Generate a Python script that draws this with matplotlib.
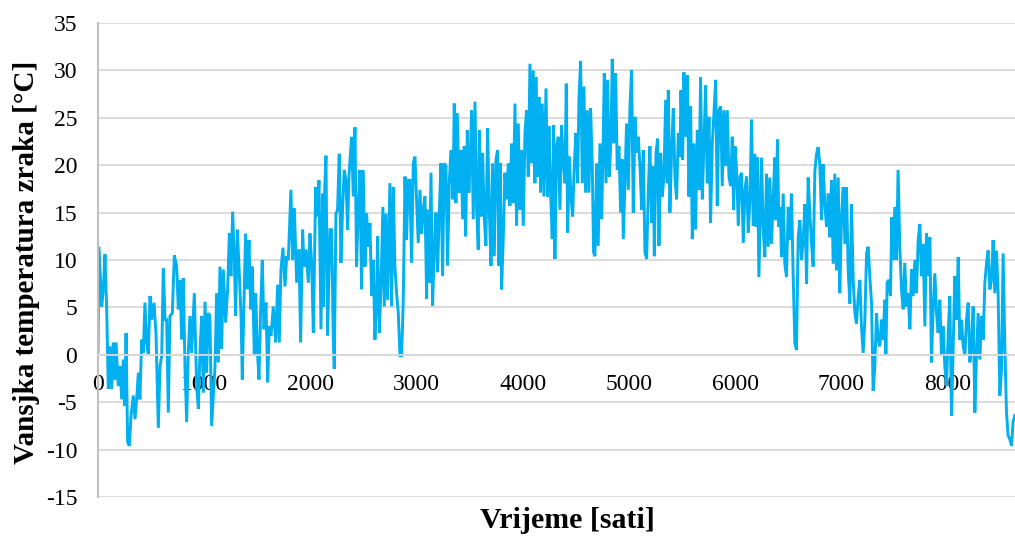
import numpy as np
import matplotlib.pyplot as plt

# hourly outside air temperature (hour, deg C)
hours = [
    0, 9, 35, 50, 66, 82, 97, 113, 129, 144, 160, 170, 191, 207, 223, 239, 254, 264, 279, 295,
    311, 333, 348, 364, 380, 395, 411, 427, 442, 458, 474, 490, 505, 527, 546, 568, 584, 600, 615, 631,
    647, 662, 678, 700, 719, 741, 756, 772, 788, 803, 819, 835, 850, 866, 882, 907, 929, 945, 960, 976,
    992, 1008, 1023, 1039, 1054, 1070, 1102, 1117, 1133, 1149, 1164, 1180, 1202, 1221, 1237, 1252, 1268, 1284, 1296, 1312,
    1328, 1347, 1359, 1375, 1390, 1406, 1422, 1438, 1453, 1472, 1485, 1500, 1516, 1532, 1547, 1563, 1582, 1598, 1613, 1629,
    1651, 1673, 1692, 1707, 1723, 1742, 1761, 1777, 1792, 1817, 1833, 1849, 1871, 1893, 1908, 1927, 1940, 1959, 1981, 1996,
    2012, 2028, 2050, 2065, 2081, 2100, 2116, 2124, 2135, 2147, 2162, 2184, 2200, 2216, 2225, 2241, 2256, 2272, 2288, 2304,
    2319, 2335, 2351, 2363, 2388, 2404, 2420, 2435, 2451, 2467, 2482, 2498, 2514, 2530, 2545, 2561, 2577, 2592, 2608, 2624,
    2633, 2649, 2665, 2683, 2696, 2712, 2727, 2749, 2765, 2781, 2796, 2812, 2828, 2844, 2859, 2875, 2891, 2906, 2922, 2937,
    2953, 2969, 2985, 3000, 3016, 3032, 3048, 3063, 3079, 3095, 3104, 3120, 3136, 3151, 3167, 3183, 3198, 3214, 3230, 3245,
    3261, 3277, 3292, 3308, 3324, 3343, 3355, 3371, 3383, 3402, 3418, 3434, 3449, 3462, 3478, 3493, 3509, 3518, 3534, 3550,
    3566, 3581, 3591, 3606, 3622, 3638, 3653, 3669, 3685, 3701, 3716, 3732, 3748, 3763, 3776, 3788, 3801, 3817, 3832, 3848,
    3864, 3879, 3895, 3911, 3927, 3942, 3958, 3974, 3989, 4005, 4021, 4036, 4052, 4068, 4083, 4099, 4115, 4124, 4140, 4153,
    4168, 4184, 4200, 4219, 4234, 4247, 4262, 4278, 4291, 4303, 4319, 4335, 4350, 4366, 4382, 4397, 4410, 4423, 4438, 4454,
    4470, 4485, 4501, 4517, 4529, 4545, 4561, 4576, 4592, 4608, 4623, 4639, 4655, 4667, 4680, 4696, 4711, 4727, 4743, 4758,
    4768, 4784, 4799, 4815, 4831, 4843, 4859, 4875, 4890, 4906, 4922, 4937, 4947, 4962, 4978, 4994, 5010, 5025, 5041, 5057,
    5072, 5088, 5104, 5120, 5135, 5151, 5167, 5182, 5198, 5214, 5229, 5239, 5255, 5270, 5283, 5299, 5314, 5330, 5346, 5361,
    5371, 5386, 5402, 5418, 5433, 5449, 5465, 5481, 5490, 5506, 5518, 5534, 5550, 5565, 5581, 5597, 5612, 5628, 5644, 5660,
    5675, 5691, 5707, 5722, 5738, 5754, 5769, 5785, 5801, 5817, 5832, 5848, 5864, 5879, 5895, 5911, 5926, 5942, 5958, 5973,
    5986, 5999, 6014, 6030, 6046, 6061, 6077, 6093, 6108, 6124, 6140, 6155, 6171, 6186, 6202, 6211, 6224, 6236, 6249, 6264,
    6280, 6296, 6312, 6327, 6343, 6359, 6374, 6384, 6399, 6412, 6425, 6437, 6453, 6468, 6484, 6500, 6516, 6531, 6547, 6563,
    6578, 6594, 6610, 6625, 6641, 6657, 6673, 6688, 6704, 6720, 6735, 6751, 6767, 6782, 6798, 6814, 6829, 6845, 6861, 6877,
    6892, 6908, 6924, 6939, 6955, 6971, 6986, 7002, 7018, 7034, 7049, 7065, 7081, 7096, 7112, 7128, 7143, 7159, 7175, 7190,
    7206, 7222, 7238, 7253, 7269, 7285, 7300, 7316, 7332, 7347, 7363, 7379, 7394, 7410, 7420, 7432, 7448, 7463, 7476, 7489,
    7504, 7520, 7535, 7551, 7567, 7583, 7598, 7614, 7630, 7646, 7661, 7677, 7693, 7708, 7724, 7740, 7755, 7771, 7787, 7802,
    7818, 7834, 7849, 7865, 7881, 7897, 7912, 7928, 7944, 7959, 7975, 7991, 8006, 8022, 8038, 8054, 8069, 8085, 8101, 8116,
    8132, 8148, 8164, 8179, 8195, 8211, 8226, 8242, 8258, 8274, 8289, 8305, 8321, 8336, 8352, 8368, 8383, 8399, 8415, 8430,
    8446, 8462, 8477, 8493, 8509, 8524, 8540, 8556, 8571, 8587, 8603, 8618, 8634,
]
temps = [
    0.3, 11.4, 5.1, 6.9, 10.6, 4.8, -3.6, 0.9, -3.6, 1.3, -2.6, 1.3, -3.3, -1.2, -4.7, -0.5, -5.4, 2.3, -9.2, -9.6,
    -6.4, -4.3, -6.8, -4.7, -1.9, -4.7, 1.6, 0.2, 5.5, 1.3, 0.0, 6.2, 3.7, 5.5, 2.3, -7.7, -1.2, -0.1, 9.1, 3.7,
    3.7, -6.1, 4.1, 4.4, 10.5, 9.3, 4.8, 7.9, 1.6, 8.1, -1.2, -7.1, 0.2, 4.1, 0.2, 6.5, -3.3, -5.7, 0.2, 4.1,
    -4.0, 5.6, -1.9, 4.4, 4.1, -7.5, -1.2, 6.5, -0.8, 9.3, 0.6, 9.0, 3.4, 6.9, 12.8, 8.3, 15.1, 10.0, 4.1, 13.2,
    9.3, 4.1, -2.6, 5.8, 12.8, 6.9, 12.1, 4.8, 9.3, -0.1, 6.5, 0.6, -2.6, 4.8, 10.0, 2.7, 5.5, -2.9, 3.0, 2.0,
    5.1, 1.3, 7.4, 1.3, 9.0, 11.3, 7.2, 10.4, 10.0, 17.4, 10.0, 15.5, 7.6, 11.1, 1.3, 13.2, 9.3, 11.1, 7.6, 12.8,
    9.7, 2.3, 17.7, 14.6, 18.4, 2.7, 17.0, 5.1, 17.4, 21.0, 2.0, 13.2, 13.2, 1.6, -1.5, 14.9, 15.3, 21.2, 9.7, 15.6,
    19.5, 18.4, 13.2, 18.8, 23.0, 16.7, 24.0, 9.3, 15.3, 19.5, 6.9, 19.5, 9.3, 14.9, 11.4, 13.9, 6.2, 10.0, 1.6, 6.2,
    12.5, 2.3, 7.2, 15.6, 5.1, 14.9, 5.8, 18.1, 5.1, 17.7, 9.3, 6.5, 4.4, -0.1, -0.1, 5.8, 18.8, 12.1, 18.4, 18.4,
    9.7, 20.2, 20.9, 16.3, 11.8, 17.4, 12.8, 15.3, 16.7, 5.9, 15.3, 7.6, 19.2, 5.2, 11.1, 15.0, 8.7, 15.0, 20.2, 8.3,
    20.2, 19.9, 9.4, 18.1, 21.6, 16.4, 26.5, 16.0, 25.5, 17.1, 21.6, 14.3, 22.0, 12.5, 23.7, 17.1, 22.0, 25.8, 14.3, 26.7,
    15.3, 11.1, 23.7, 14.6, 21.3, 14.3, 11.5, 23.9, 15.3, 9.4, 20.2, 10.4, 20.6, 21.6, 9.4, 20.2, 6.9, 12.5, 19.2, 16.4,
    20.2, 15.7, 22.3, 16.0, 26.5, 13.6, 24.4, 15.3, 21.6, 13.6, 23.4, 25.8, 18.8, 30.7, 20.2, 30.0, 18.1, 29.3, 18.8, 27.2,
    17.1, 26.5, 16.7, 28.1, 16.7, 24.1, 17.4, 12.2, 24.2, 10.1, 22.0, 23.0, 15.3, 24.2, 20.2, 18.1, 28.6, 12.9, 20.9, 16.7,
    14.6, 19.9, 23.4, 18.1, 26.9, 31.0, 18.1, 28.3, 17.1, 25.8, 17.1, 26.0, 19.9, 10.8, 10.4, 20.2, 11.5, 22.3, 14.3, 22.7,
    29.7, 18.1, 29.0, 18.8, 22.7, 31.2, 22.3, 29.7, 19.5, 22.0, 15.0, 20.6, 12.2, 18.1, 24.4, 17.4, 26.2, 30.0, 15.0, 25.1,
    21.3, 23.0, 19.9, 15.3, 21.6, 10.8, 10.1, 17.1, 22.0, 13.9, 19.9, 10.4, 21.3, 22.8, 11.5, 21.3, 16.7, 18.8, 26.9, 18.1,
    27.9, 15.0, 21.6, 26.0, 18.8, 16.4, 23.4, 20.9, 27.9, 20.6, 29.8, 23.0, 29.5, 16.7, 26.2, 12.2, 22.3, 13.2, 23.7, 17.4,
    29.3, 16.4, 22.3, 28.4, 18.1, 25.1, 13.9, 22.3, 25.5, 29.0, 15.7, 25.8, 26.2, 17.8, 25.8, 19.9, 25.8, 18.8, 17.8, 23.0,
    15.3, 22.0, 19.5, 13.6, 18.8, 19.2, 11.8, 17.4, 18.8, 12.9, 16.4, 24.8, 13.6, 21.2, 13.5, 20.8, 8.2, 14.2, 20.8, 13.5,
    10.3, 19.1, 11.4, 18.7, 11.7, 16.6, 20.8, 14.2, 22.7, 13.5, 15.6, 10.3, 17.0, 9.6, 8.2, 15.6, 12.1, 17.0, 8.2, 1.2,
    0.5, 12.4, 14.2, 10.0, 12.1, 15.9, 7.5, 18.7, 14.9, 11.7, 9.3, 19.4, 21.2, 21.9, 20.1, 14.2, 20.1, 15.9, 13.5, 17.0,
    12.4, 18.4, 9.6, 19.1, 8.9, 18.7, 6.5, 14.5, 17.7, 11.7, 17.7, 8.9, 5.4, 15.9, 7.9, 4.4, 3.3, 6.1, 7.9, 3.0,
    0.2, 3.7, 10.7, 11.4, 8.2, 5.4, -3.8, -1.2, 4.4, 1.6, 0.9, 3.7, 1.6, 5.8, -0.1, 7.6, 7.9, 6.2, 14.5, 10.0,
    15.6, 10.0, 19.5, 11.4, 6.9, 4.8, 9.7, 5.1, 6.5, 2.7, 9.0, 6.2, 10.0, 6.5, 12.1, 13.8, 8.3, 11.7, 3.0, 12.8,
    8.3, 12.4, -0.8, 4.8, 8.6, 4.4, 2.3, 5.8, -0.1, 3.0, -1.2, -3.3, 2.0, 6.2, -6.4, 0.9, 8.3, 3.7, 10.3, 1.6,
    3.7, 0.9, -0.1, 3.7, 5.5, -0.8, 0.9, 5.1, -6.1, 0.2, 4.4, -0.5, 4.1, 1.6, 7.6, 9.7, 11.0, 6.9, 7.9, 12.1,
    6.5, 11.0, 6.5, -4.3, -1.5, 10.7, 0.9, -6.1, -8.5, -8.9, -9.6, -7.1, -6.4,
]

y_ticks = np.arange(-15, 36, 5)
x_ticks = np.arange(0, 9000, 1000)
line_color = '#00b0f0'
grid_color = '#d9d9d9'

plt.rcParams['font.family'] = ['Liberation Serif', 'DejaVu Serif']
plt.rcParams['axes.unicode_minus'] = False

fig = plt.figure(figsize=(10.15, 5.36), dpi=100)
ax = fig.add_axes([98 / 1015, 1 - 497 / 536, 1 - 98 / 1015, (497 - 23) / 536])

ax.plot(hours, temps, color=line_color, lw=2.1, solid_joinstyle='miter')

ax.set_xlim(0, 8636)
ax.set_ylim(-15, 35)
ax.set_yticks(y_ticks)
ax.set_xticks(x_ticks)
ax.yaxis.grid(True, color=grid_color, lw=1.3)
ax.set_axisbelow(True)

for side in ['top', 'right']:
    ax.spines[side].set_visible(False)
ax.spines['left'].set_color('#bfbfbf')
ax.spines['left'].set_linewidth(1.5)
ax.spines['bottom'].set_position(('data', 0))
ax.spines['bottom'].set_color(grid_color)
ax.spines['bottom'].set_linewidth(1.3)

ax.tick_params(axis='both', length=0, labelsize=17)
ax.tick_params(axis='y', pad=15)
ax.tick_params(axis='x', pad=14)

fig.text(567 / 1015, 1 - 520 / 536, 'Vrijeme [sati]', ha='center', va='center',
         fontsize=21.5, fontweight='bold')
fig.text(27 / 1015, 1 - 262 / 536, 'Vansjka temperatura zraka [°C]', ha='center', va='center',
         rotation=90, fontsize=21, fontweight='bold')

fig.savefig('out.png', dpi=100)
